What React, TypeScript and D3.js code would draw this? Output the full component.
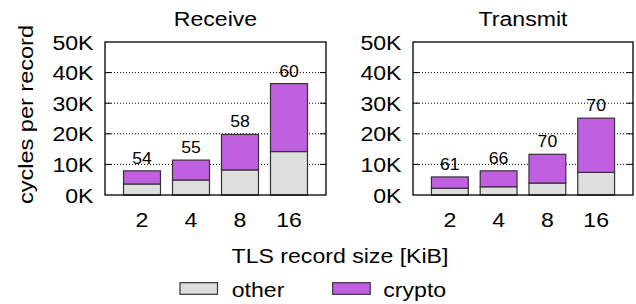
import { useEffect, useRef } from "react";
import * as d3 from "d3";

// record sizes (KiB)
const sizes = ["2", "4", "8", "16"];
const panelTitles = ["Receive", "Transmit"];

// cycles per record
const receiveOther = [3600, 4900, 8200, 14200];
const receiveCrypto = [4300, 6500, 11600, 22200];
const transmitOther = [2200, 2700, 3900, 7400];
const transmitCrypto = [3700, 5200, 9400, 17700];

// crypto share labels on top of bars (%)
const receiveLabels = ["54", "55", "58", "60"];
const transmitLabels = ["61", "66", "70", "70"];

const yTicks = [0, 10000, 20000, 30000, 40000, 50000];
const seriesKeys = ["other", "crypto"];
const seriesColors = ["#dedede", "#c060e0"];

const FONT = "'Liberation Sans', Arial, Helvetica, sans-serif";

const App = () => {
  const svgRef = useRef<SVGSVGElement>(null);

  useEffect(() => {
    const svg = d3.select(svgRef.current);
    svg.selectAll("*").remove();

    const width = 636;
    const height = 304;
    svg.attr("width", width).attr("height", height);

    const text = (
      g: any,
      x: number,
      y: number,
      str: string,
      size = 21,
      anchor = "middle",
      sx = 1.1,
      rot = 0
    ) =>
      g
        .append("text")
        .attr("transform", `translate(${x},${y}) rotate(${rot}) scale(${sx},1)`)
        .attr("text-anchor", anchor)
        .style("font-family", FONT)
        .style("font-size", `${size}px`)
        .attr("fill", "#000")
        .text(str);

    const top = 42;
    const bottom = 195;
    const y = d3.scaleLinear().domain([0, 50000]).range([bottom, top]);

    const panels = [
      { title: panelTitles[0], x0: 105, x1: 326, other: receiveOther, crypto: receiveCrypto, labels: receiveLabels },
      { title: panelTitles[1], x0: 413, x1: 633, other: transmitOther, crypto: transmitCrypto, labels: transmitLabels },
    ];

    panels.forEach((p) => {
      const g = svg.append("g");
      const x = d3
        .scaleBand()
        .domain(sizes)
        .range([p.x0, p.x1])
        .paddingInner(0.245)
        .paddingOuter(0.378);

      const rows = sizes.map((s, i) => ({ size: s, other: p.other[i], crypto: p.crypto[i] }));
      const stacked = d3.stack().keys(seriesKeys)(rows as any);

      // dotted grid + mirrored ticks
      yTicks.slice(1, -1).forEach((t) => {
        g.append("line")
          .attr("x1", p.x0)
          .attr("x2", p.x1)
          .attr("y1", y(t))
          .attr("y2", y(t))
          .attr("stroke", "#000")
          .attr("stroke-width", 1)
          .attr("stroke-dasharray", "1,2");
        [
          [p.x0, p.x0 + 6],
          [p.x1 - 6, p.x1],
        ].forEach(([a, b]) =>
          g.append("line")
            .attr("x1", a)
            .attr("x2", b)
            .attr("y1", y(t))
            .attr("y2", y(t))
            .attr("stroke", "#000")
            .attr("stroke-width", 1)
        );
      });

      // bars
      stacked.forEach((layer, li) => {
        g.selectAll(null)
          .data(layer)
          .enter()
          .append("rect")
          .attr("x", (d: any) => x(d.data.size)!)
          .attr("width", x.bandwidth())
          .attr("y", (d: any) => y(d[1]))
          .attr("height", (d: any) => y(d[0]) - y(d[1]))
          .attr("fill", seriesColors[li])
          .attr("stroke", "#333")
          .attr("stroke-width", 1.2);
      });

      // labels over bars
      sizes.forEach((s, i) => {
        text(g, x(s)! + x.bandwidth() / 2, y(p.other[i] + p.crypto[i]) - 7, p.labels[i], 16.5, "middle", 1.07);
      });

      // frame
      g.append("rect")
        .attr("x", p.x0)
        .attr("y", top)
        .attr("width", p.x1 - p.x0)
        .attr("height", bottom - top)
        .attr("fill", "none")
        .attr("stroke", "#000")
        .attr("stroke-width", 1.3);

      // y tick labels
      yTicks.forEach((t) => {
        text(g, p.x0 - 11.5, y(t) + 7.5, `${t / 1000}K`, 21, "end");
      });

      // x tick labels
      sizes.forEach((s) => {
        text(g, x(s)! + x.bandwidth() / 2, 227, s);
      });

      // title
      text(g, (p.x0 + p.x1) / 2, 26, p.title);
    });

    // axis titles
    text(svg, 33, 114.5, "cycles per record", 21, "middle", 1.12, -90);
    text(svg, 340, 263, "TLS record size [KiB]");

    // legend
    const legendItems = [
      { box: 180, label: 231.7 },
      { box: 332.7, label: 383.3 },
    ];
    seriesKeys.forEach((k, i) => {
      svg.append("rect")
        .attr("x", legendItems[i].box)
        .attr("y", 282.7)
        .attr("width", 37.5)
        .attr("height", 11.6)
        .attr("fill", seriesColors[i])
        .attr("stroke", "#333")
        .attr("stroke-width", 1.2);
      text(svg, legendItems[i].label, 296.5, k, 21, "start");
    });
  }, []);

  return <svg ref={svgRef} style={{ position: "absolute", left: 0, top: 0, display: "block", background: "#fff" }} />;
};

export default App;
